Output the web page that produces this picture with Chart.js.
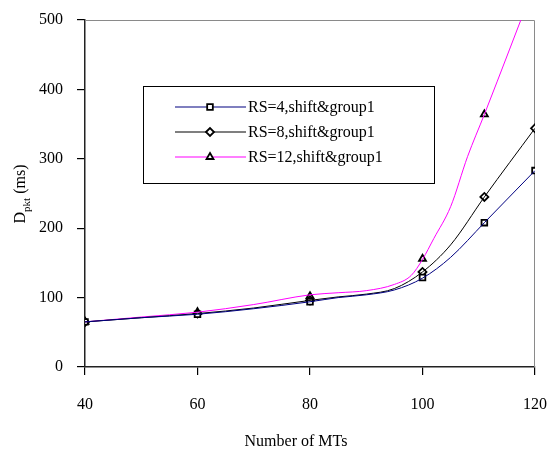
<!DOCTYPE html>
<html>
<head>
<meta charset="utf-8">
<script src="https://cdn.jsdelivr.net/npm/chart.js@4"></script>
<style>
  html, body { margin: 0; padding: 0; background: #ffffff; }
  #wrap { width: 547px; height: 456px; position: relative; }
</style>
</head>
<body>
<div id="wrap"><canvas id="c" width="547" height="456"></canvas></div>
<script>
// ---- data ----
const seriesNames = ["RS=4,shift&group1", "RS=8,shift&group1", "RS=12,shift&group1"];
const xTicks = [40, 60, 80, 100, 120];
const yTicks = [0, 100, 200, 300, 400, 500];

// marker positions
const markerX = [40, 60, 80, 100, 111, 120];
const rs4Markers = [65, 76, 94, 129, 208, 283];
const rs8Markers = [65, 77, 96, 137, 245, 344];
const rs12Markers = [65, 79, 102, 156, 364, 553];

// curve traces
const rs4CurveX = [40, 50, 60, 70, 80, 85, 90, 95, 100, 105, 111, 120];
const rs4Curve  = [65, 71, 76, 84, 94, 100, 104, 111, 128, 158, 208, 283];
const rs8CurveX = [40, 50, 60, 70, 80, 85, 90, 95, 100, 105, 111, 120];
const rs8Curve  = [65, 71, 77, 85, 96, 101, 105, 113, 137, 176, 245, 344];
const rs12CurveX = [40, 50, 60, 70, 80, 85, 90, 95, 98, 100, 102, 105, 108, 111, 120];
const rs12Curve  = [65, 72, 79, 90, 104, 107, 110, 119, 132, 155, 185, 231, 303, 364, 553];

const colors = ["#000080", "#000000", "#ff00ff"];
const markerStyles = ["rect", "rectRot", "triangle"];
const FONT = "'Liberation Serif', 'Times New Roman', serif";

function pts(xs, ys) { return xs.map((x, i) => ({ x: x, y: ys[i] })); }

const curves = [pts(rs4CurveX, rs4Curve), pts(rs8CurveX, rs8Curve), pts(rs12CurveX, rs12Curve)];
const markers = [pts(markerX, rs4Markers), pts(markerX, rs8Markers), pts(markerX, rs12Markers)];

const datasets = [];
for (let i = 0; i < 3; i++) {
  datasets.push({
    label: seriesNames[i] + " line",
    data: curves[i],
    borderColor: colors[i],
    borderWidth: 1,
    pointRadius: 0,
    cubicInterpolationMode: 'monotone',
    fill: false
  });
}
for (let i = 0; i < 3; i++) {
  datasets.push({
    label: seriesNames[i],
    data: markers[i],
    showLine: false,
    pointStyle: markerStyles[i],
    pointRadius: 4,
    borderColor: "#000000",
    backgroundColor: "#ffffff",
    pointBorderWidth: 1.8
  });
}

const framePlugin = {
  id: 'frame',
  beforeDatasetsDraw(chart) {
    const a = chart.chartArea, ctx = chart.ctx;
    ctx.save();
    ctx.strokeStyle = "#8a8a8a";
    ctx.lineWidth = 1;
    ctx.beginPath();
    ctx.moveTo(a.left, a.top + 0.5);
    ctx.lineTo(a.right - 0.5, a.top + 0.5);
    ctx.lineTo(a.right - 0.5, a.bottom);
    ctx.stroke();
    ctx.restore();
  },
  afterDraw(chart) {
    const ctx = chart.ctx;
    // x axis title
    ctx.save();
    ctx.fillStyle = "#000";
    ctx.font = "16px " + FONT;
    ctx.textAlign = "center";
    ctx.textBaseline = "middle";
    ctx.fillText("Number of MTs", 296, 442);
    ctx.restore();

    // y axis title with subscript
    ctx.save();
    ctx.translate(25, 194);
    ctx.rotate(-Math.PI / 2);
    ctx.fillStyle = "#000";
    const big = "16px " + FONT, small = "11px " + FONT;
    ctx.font = big; const wD = ctx.measureText("D").width; const wMs = ctx.measureText(" (ms)").width;
    ctx.font = small; const wP = ctx.measureText("pkt").width;
    let x = -(wD + wP + wMs) / 2;
    ctx.textBaseline = "alphabetic";
    ctx.textAlign = "left";
    ctx.font = big; ctx.fillText("D", x, 0); x += wD;
    ctx.font = small; ctx.fillText("pkt", x, 5); x += wP;
    ctx.font = big; ctx.fillText(" (ms)", x, 0);
    ctx.restore();

    // legend box
    const bx = 143, by = 86, bw = 291, bh = 97;
    ctx.save();
    ctx.fillStyle = "#ffffff";
    ctx.fillRect(bx, by, bw, bh);
    ctx.strokeStyle = "#000";
    ctx.lineWidth = 1;
    ctx.strokeRect(bx + 0.5, by + 0.5, bw, bh);
    const rows = [107, 132, 157];
    for (let i = 0; i < 3; i++) {
      const yy = rows[i];
      ctx.strokeStyle = colors[i];
      ctx.lineWidth = 1.2;
      ctx.beginPath();
      ctx.moveTo(175, yy);
      ctx.lineTo(246, yy);
      ctx.stroke();
      ctx.strokeStyle = "#000";
      ctx.fillStyle = "#fff";
      ctx.lineWidth = 1.8;
      Chart.helpers.drawPoint(ctx, { pointStyle: markerStyles[i], radius: 4, rotation: 0, borderWidth: 1.8 }, 210, yy);
      ctx.fillStyle = "#000";
      ctx.font = "16px " + FONT;
      ctx.textAlign = "left";
      ctx.textBaseline = "middle";
      ctx.fillText(seriesNames[i], 248, yy + 1);
    }
    ctx.restore();
  }
};

new Chart(document.getElementById('c'), {
  type: 'line',
  data: { datasets: datasets },
  options: {
    responsive: false,
    animation: false,
    devicePixelRatio: 1,
    layout: { padding: { left: 0, right: 12, top: 20, bottom: 0 } },
    plugins: { legend: { display: false }, tooltip: { enabled: false } },
    scales: {
      x: {
        type: 'linear',
        min: 40, max: 120,
        afterBuildTicks(scale) { scale.ticks = xTicks.map(v => ({ value: v })); },
        afterFit(scale) { scale.height = 89; scale.paddingLeft = 0; scale.paddingRight = 0; },
        grid: { drawOnChartArea: false, drawTicks: true, tickLength: 8, color: "#000", lineWidth: 1.2 },
        border: { display: true, color: "#222", width: 1.5 },
        ticks: { color: "#000", font: { family: FONT, size: 16 }, padding: 20, maxRotation: 0 }
      },
      y: {
        min: 0, max: 500,
        afterBuildTicks(scale) { scale.ticks = yTicks.map(v => ({ value: v })); },
        afterFit(scale) { scale.width = 85; scale.paddingTop = 0; scale.paddingBottom = 0; },
        grid: { drawOnChartArea: false, drawTicks: true, tickLength: 8, color: "#000", lineWidth: 1.2 },
        border: { display: true, color: "#222", width: 1.5 },
        ticks: { color: "#000", font: { family: FONT, size: 16 }, padding: 14 }
      }
    }
  },
  plugins: [framePlugin]
});
</script>
</body>
</html>
